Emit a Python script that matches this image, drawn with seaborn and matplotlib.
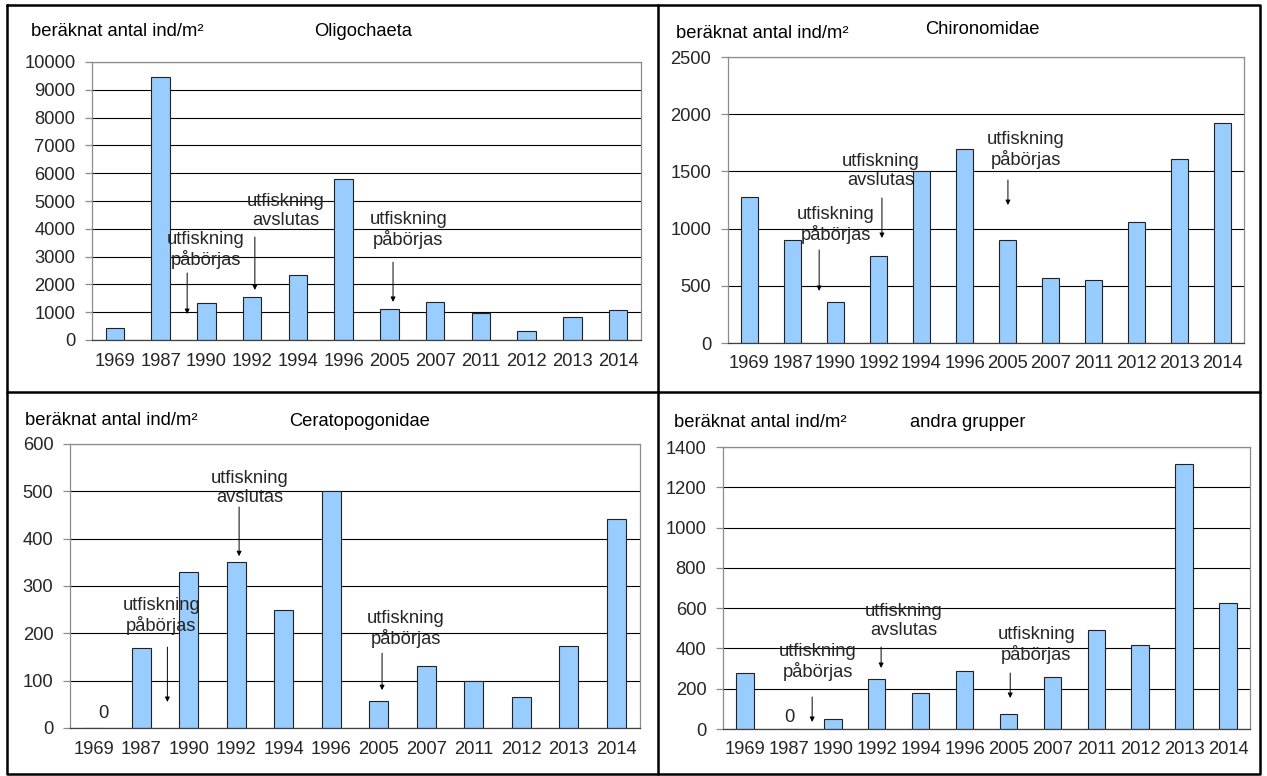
import numpy as np
import pandas as pd
import matplotlib
matplotlib.use("Agg")
import matplotlib.pyplot as plt
from matplotlib.lines import Line2D
import seaborn as sns

# ---- data -------------------------------------------------------------
years = ["1969", "1987", "1990", "1992", "1994", "1996",
         "2005", "2007", "2011", "2012", "2013", "2014"]

oligochaeta = [440, 9450, 1340, 1560, 2350, 5800, 1100, 1350, 980, 310, 810, 1070]
chironomidae = [1280, 900, 360, 760, 1500, 1700, 900, 570, 555, 1060, 1610, 1920]
ceratopogonidae = [0, 170, 330, 350, 250, 500, 58, 130, 100, 65, 174, 441]
andra_grupper = [278, 0, 48, 248, 177, 290, 76, 258, 493, 418, 1314, 625]

group_names = ["Oligochaeta", "Chironomidae", "Ceratopogonidae", "andra grupper"]
y_maxima = [10000, 2500, 600, 1400]
y_steps = [1000, 500, 100, 200]

unit_label = "beräknat antal ind/m²"
start_text = "utfiskning\npåbörjas"
end_text = "utfiskning\navslutas"

# ---- style ------------------------------------------------------------
sns.set_style("white")
plt.rcParams["font.family"] = ["Liberation Sans", "DejaVu Sans"]
FS = 13.2
BAR = "#99CCFF"

W, H = 1267, 776
fig = plt.figure(figsize=(W / 100, H / 100), dpi=100)


def px_box(left, right, top, bottom):
    return [left / W, 1 - bottom / H, (right - left) / W, (bottom - top) / H]


def px_text(x, y, s, ha="left"):
    fig.text(x / W, 1 - y / H, s, ha=ha, va="center", fontsize=FS, color="black")


# axes rectangles (pixels: left, right, top, bottom)
boxes = [(92, 641, 62, 340), (728, 1244, 57, 343),
         (70, 640, 444, 728), (723, 1250, 447, 729)]

# header text positions: (unit label x, y), (title centre x, y)
headers = [((31, 32), (363, 32)), ((676, 33), (982, 30)),
           ((25, 421), (360, 422)), ((674, 423), (968, 423))]

# annotations: text, text position (x, y), arrow x, arrow tail y, arrow tip y
notes = [
    [(start_text, 1.99, 3240, 1.58, 2410, 935),
     (end_text, 3.74, 4640, 3.06, 3705, 1800),
     (start_text, 6.41, 3960, 6.08, 2800, 1370)],
    [(start_text, 2.01, 1031, 1.62, 813, 455),
     (end_text, 3.06, 1503, 3.08, 1267, 918),
     (start_text, 6.43, 1687, 6.01, 1425, 1206)],
    [(start_text, 1.42, 237, 1.55, 171, 55),
     (end_text, 3.29, 507, 3.06, 467, 363),
     (start_text, 6.57, 209, 6.07, 158, 80)],
    [(start_text, 1.66, 333, 1.53, 159, 35),
     (end_text, 3.62, 536, 3.10, 407, 303),
     (start_text, 6.63, 417, 6.04, 278, 154)],
]

# labels for zero-valued bars: (x, y)
zero_labels = [None, None, (0.2, 30), (1.0, 55)]

series = [oligochaeta, chironomidae, ceratopogonidae, andra_grupper]

for i, values in enumerate(series):
    ax = fig.add_axes(px_box(*boxes[i]))
    df = pd.DataFrame({"year": years, "count": values})
    sns.barplot(data=df, x="year", y="count", order=years, color=BAR,
                width=0.4, saturation=1, edgecolor="#222222", linewidth=0.8, ax=ax)
    ax.set_xlabel("")
    ax.set_ylabel("")
    ax.set_xlim(-0.5, len(years) - 0.5)
    ax.set_ylim(0, y_maxima[i])
    ax.set_yticks(np.arange(0, y_maxima[i] + 1, y_steps[i]))
    ax.yaxis.grid(True, color="black", linewidth=0.8)
    ax.set_axisbelow(True)
    for side in ["left", "right", "top"]:
        ax.spines[side].set_color("#8c8c8c")
        ax.spines[side].set_linewidth(0.9)
    ax.spines["bottom"].set_color("#404040")
    ax.spines["bottom"].set_linewidth(0.9)

    ax.set_xticks(np.arange(-0.5, len(years), 1), minor=True)
    ax.tick_params(axis="x", which="major", length=0, pad=9, labelsize=FS)
    ax.tick_params(axis="x", which="minor", length=5, width=0.9,
                   color="#404040", direction="out")
    ax.tick_params(axis="y", which="major", length=5, width=0.9,
                   color="#8c8c8c", pad=7, labelsize=FS, left=True)

    for text, tx, ty, ax_x, tail, tip in notes[i]:
        ax.text(tx, ty, text, ha="center", va="center", fontsize=FS,
                linespacing=1.15)
        ax.annotate("", xy=(ax_x, tip), xytext=(ax_x, tail),
                    arrowprops=dict(arrowstyle="-|>", lw=0.7, color="black",
                                    mutation_scale=7, shrinkA=0, shrinkB=0))
    if zero_labels[i] is not None:
        zx, zy = zero_labels[i]
        ax.text(zx, zy, "0", ha="center", va="center", fontsize=FS)

    (lx, ly), (tx, ty) = headers[i]
    px_text(lx, ly, unit_label)
    px_text(tx, ty, group_names[i], ha="center")

# panel frame lines
frame_kw = dict(color="black", linewidth=1.8, transform=fig.transFigure)
L, R, T, B = 7, 1260, 5, 774
fig.add_artist(Line2D([L / W, R / W, R / W, L / W, L / W],
                      [1 - T / H, 1 - T / H, 1 - B / H, 1 - B / H, 1 - T / H], **frame_kw))
fig.add_artist(Line2D([658 / W, 658 / W], [1 - T / H, 1 - B / H], **frame_kw))
fig.add_artist(Line2D([L / W, R / W], [1 - 392 / H, 1 - 392 / H], **frame_kw))

fig.savefig("out.png", dpi=100)
